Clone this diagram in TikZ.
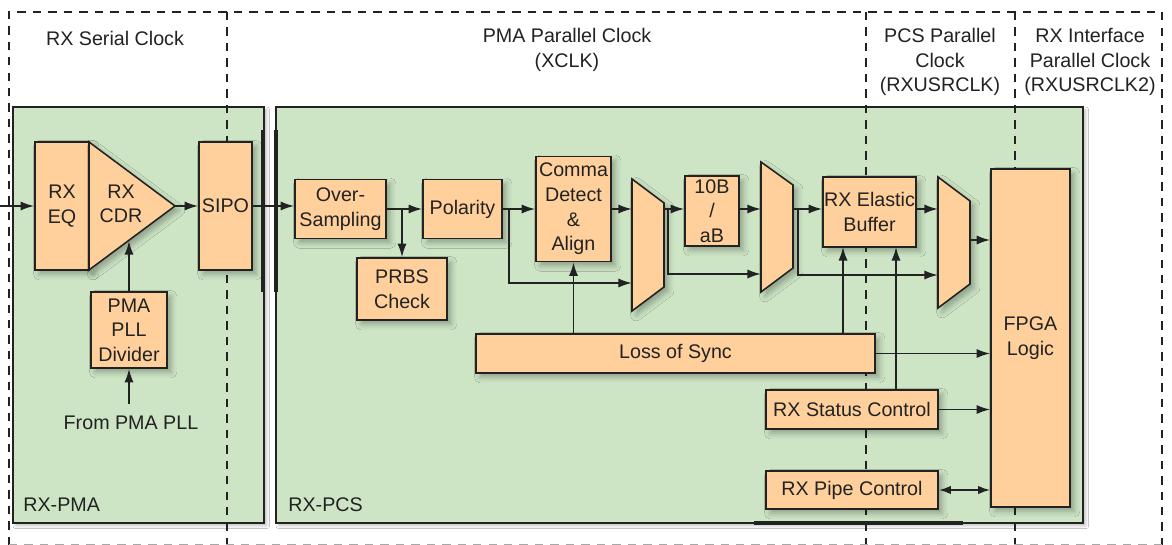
\documentclass[tikz,border=0pt]{standalone}
\usepackage{fontspec}
\setmainfont{Liberation Sans}
\usepackage{xcolor}
\usepackage{tikz}
\usetikzlibrary{arrows.meta,shadows.blur}
\definecolor{ink}{HTML}{222222}
\definecolor{peach}{HTML}{FFD09B}
\definecolor{pmagreen}{HTML}{CDE5C5}

\begin{document}
\begin{tikzpicture}[x=0.025cm,y=-0.025cm,line width=1pt,
  every node/.style={font=\fontsize{14}{17.5}\selectfont,text=ink,align=center},
  panel/.style={draw=ink,fill=pmagreen,line width=1.1pt,
    blur shadow={shadow xshift=2pt,shadow yshift=-2pt,shadow blur radius=2pt,shadow opacity=25}},
  shp/.style={draw=ink,fill=peach,line width=1.1pt,
    blur shadow={shadow xshift=3pt,shadow yshift=-3pt,shadow blur radius=4pt,shadow opacity=30}},
  blk/.style={shp,inner sep=0pt},
  clk/.style={draw=ink,line width=1.1pt,dash pattern=on 6pt off 5pt},
  bar/.style={draw=ink,line width=2.8pt},
  sig/.style={draw=ink,line width=1.3pt,-{Latex[length=3.4mm,width=2.3mm]}},
  sigs/.style={draw=ink,line width=1.3pt,{Latex[length=3mm,width=2.1mm]}-{Latex[length=3mm,width=2.1mm]}}]
\useasboundingbox[fill=white] (0,0) rectangle (1172,545);

% PMA / PCS areas
\draw[panel] (13,107) rectangle (264,523);
\draw[panel] (276,107) rectangle (1083,523);

% clock domains
\draw[clk] (9,545) -- (9,12) -- (1162,12) -- (1162,545);
\foreach \x in {227,866,1015} \draw[clk] (\x,12) -- (\x,545);
\draw[clk,draw=ink!40] (9,545) -- (1162,545);

\node (serclk) at (115,38) {RX Serial Clock};
\node (pmaclk) at (567,50) {PMA Parallel Clock\\(XCLK)};
\node (pcsclk) at (940,62) {PCS Parallel\\Clock\\(RXUSRCLK)};
\node (ifclk) at (1090,62) {RX Interface\\Parallel Clock\\(RXUSRCLK2)};

\draw[bar] (263,130) -- (263,292);
\draw[bar] (276,130) -- (276,292);
\draw[bar] (754,523) -- (963,523);

\node[anchor=west] (pmalbl) at (18,505) {RX-PMA};
\node[anchor=west] (pcslbl) at (283,505) {RX-PCS};

% RX-PMA
\node[blk,minimum width=1.35cm,minimum height=3.2cm] (eq) at (62,206) {RX\\EQ};
\draw[shp] (89,142) -- (175,206) -- (89,270) -- cycle;
\node (cdr) at (121,204) {RX\\CDR};
\coordinate (cdrtip) at (175,206);
\coordinate (cdrpll) at (129,241);
\node[blk,minimum width=1.325cm,minimum height=3.2cm] (sipo) at (225.5,206) {SIPO};
\node[blk,minimum width=1.9cm,minimum height=1.9cm] (pll) at (129,330) {PMA\\PLL\\Divider};
\node (from) at (131,423) {From PMA PLL};
\coordinate (rxin) at (0,206);

% RX-PCS
\node[blk,minimum width=2.275cm,minimum height=1.475cm] (os) at (340.5,209) {Over-\\Sampling};
\node[blk,minimum width=1.975cm,minimum height=1.475cm] (pol) at (462.5,209) {Polarity};
\node[blk,minimum width=2.25cm,minimum height=1.55cm] (prbs) at (402,289) {PRBS\\Check};
\node[blk,minimum width=1.875cm,minimum height=2.625cm] (comma) at (573.5,209) {Comma\\Detect\\\&\\Align};
\node[blk,minimum width=1.35cm,minimum height=1.75cm] (tenb) at (712,211) {10B\\/\\aB};
\node[blk,minimum width=2.325cm,minimum height=1.75cm] (ebuf) at (869.5,212) {RX Elastic\\Buffer};
\node[blk,minimum width=1.975cm,minimum height=8.45cm] (fpga) at (1030.5,338) {FPGA\\Logic};
\node[blk,minimum width=9.975cm,minimum height=0.975cm] (los) at (675.5,353.5) {Loss of Sync};
\node[blk,minimum width=4.3cm,minimum height=0.975cm] (stat) at (852,409.5) {RX Status Control};
\node[blk,minimum width=4.3cm,minimum height=0.95cm] (pipe) at (852,490) {RX Pipe Control};

% muxes
\draw[shp] (632,179) -- (664,203) -- (664,287) -- (632,311) -- cycle;
\draw[shp] (761,162) -- (793,185) -- (793,268) -- (761,292) -- cycle;
\draw[shp] (938,177) -- (970,201) -- (970,284) -- (938,308) -- cycle;
\coordinate (m1a) at (632,209);
\coordinate (m1b) at (632,283);
\coordinate (m1o) at (664,209);
\coordinate (m2a) at (761,209);
\coordinate (m2b) at (761,274);
\coordinate (m2o) at (793,209);
\coordinate (m3a) at (938,209);
\coordinate (m3b) at (938,275);
\coordinate (m3o) at (970,240);
\coordinate (osj) at (402,209);
\coordinate (polj) at (509,209);
\coordinate (m1j) at (668,209);
\coordinate (m2j) at (798,209);
\coordinate (eb1) at (843,247);
\coordinate (eb2) at (896,247);

% signals
\draw[sig] (rxin) -- (eq);
\draw[sig] (cdrtip) -- (sipo);
\draw[sig] (pll) -- (cdrpll);
\draw[sig] ([yshift=5pt]from.north -| pll.south) -- (pll.south);
\draw[sig] (sipo.east) -- (sipo.east -| os.west);
\draw[sig] (os) -- (pol);
\draw[sig] (osj) -- (osj |- prbs.north);
\draw[sig] (pol) -- (comma);
\draw[sig] (polj) |- (m1b);
\draw[sig] (comma) -- (m1a);
\draw[sig] (los.north -| comma.south) -- (comma.south);
\draw[sig] (m1o) -- (m1o -| tenb.west);
\draw[sig] (m1j) |- (m2b);
\draw[sig] (m2a -| tenb.east) -- (m2a);
\draw[sig] (m2o) -- (m2o -| ebuf.west);
\draw[sig] (m2j) |- (m3b);
\draw[sig] (m3a -| ebuf.east) -- (m3a);
\draw[sig] (m3o) -- (m3o -| fpga.west);
\draw[sig] (eb1 |- los.north) -- (eb1);
\draw[sig] (eb2 |- stat.north) -- (eb2);
\draw[sig] (los.east) -- (los.east -| fpga.west);
\draw[sig] (stat.east) -- (stat.east -| fpga.west);
\draw[sigs] (pipe.east) -- (pipe.east -| fpga.west);
\end{tikzpicture}
\end{document}
